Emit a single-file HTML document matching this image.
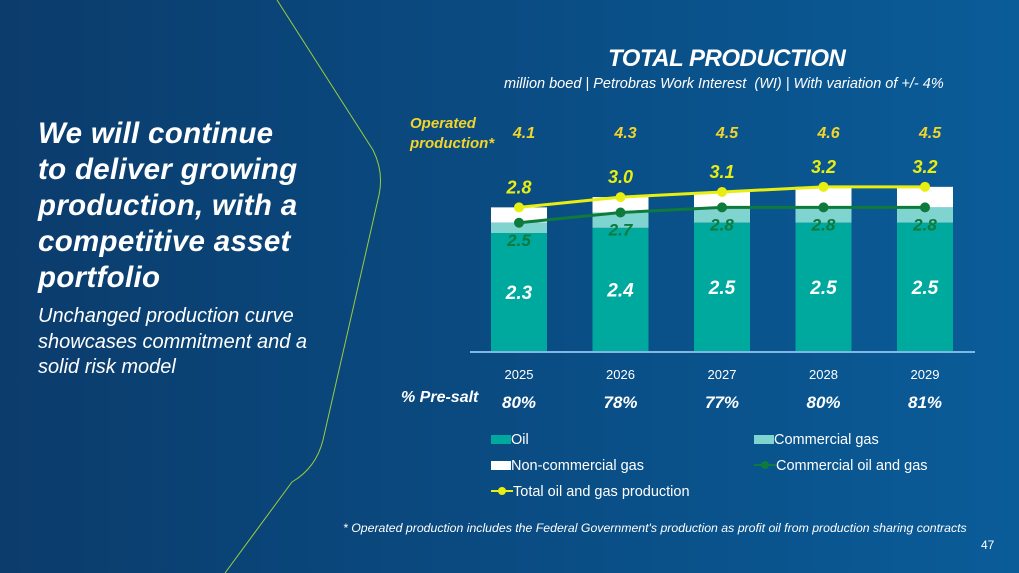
<!DOCTYPE html>
<html><head><meta charset="utf-8"><style>
html,body{margin:0;padding:0}
body{width:1019px;height:573px;overflow:hidden;position:relative;font-family:"Liberation Sans",sans-serif;
background:linear-gradient(90deg,#0b3c6c 0%,#0a4a80 45%,#0a5c99 100%);color:#fff}
.abs{position:absolute;white-space:nowrap}
.h{font-weight:bold;font-style:italic;font-size:29.5px;line-height:36px;left:38px;top:116px;letter-spacing:0.3px}
.s{font-style:italic;font-size:20px;line-height:25.5px;left:38px;top:304px}
</style></head><body>
<svg class="abs" style="left:0;top:0" width="1019" height="573">
<path d="M277,0 L373,150 Q384,172 379,195 L323,440 Q316,468 292,482 L225,573" fill="none" stroke="#9ccc3c" stroke-width="1"/>
</svg>
<div class="abs h">We will continue<br>to deliver growing<br>production, with a<br>competitive asset<br>portfolio</div>
<div class="abs s">Unchanged production curve<br>showcases commitment and a<br>solid risk model</div>
<div class="abs" style="left:608px;top:45px;font-size:24px;font-weight:bold;font-style:italic;letter-spacing:-0.5px">TOTAL PRODUCTION</div>
<div class="abs" style="left:504px;top:76px;font-size:14.5px;font-style:italic">million boed | Petrobras Work Interest&nbsp; (WI) | With variation of +/- 4%</div>
<div class="abs" style="left:410px;top:114px;font-size:15px;font-weight:bold;font-style:italic;color:#f2d42a;line-height:20px">Operated<br>production*</div>
<div class="abs" style="left:401px;top:389px;font-size:16px;font-weight:bold;font-style:italic">% Pre-salt</div>
<svg class="abs" style="left:0;top:0" width="1019" height="573" id="chart"></svg>
<div class="abs" style="left:491px;top:427px;font-size:14.5px;line-height:26px">
<div><span style="display:inline-block;width:20px;height:9px;background:#00a99d"></span>Oil</div>
<div><span style="display:inline-block;width:20px;height:9px;background:#fff"></span>Non-commercial gas</div>
<div><svg width="22" height="10"><line x1="0" y1="5" x2="22" y2="5" stroke="#e8ee10" stroke-width="2"/><circle cx="11" cy="5" r="4" fill="#e8ee10"/></svg>Total oil and gas production</div>
</div>
<div class="abs" style="left:754px;top:427px;font-size:14.5px;line-height:26px">
<div><span style="display:inline-block;width:20px;height:9px;background:#80d4d0"></span>Commercial gas</div>
<div><svg width="22" height="10"><line x1="0" y1="5" x2="22" y2="5" stroke="#0e7a3c" stroke-width="2"/><circle cx="11" cy="5" r="4" fill="#0e7a3c"/></svg>Commercial oil and gas</div>
</div>
<div class="abs" style="left:343px;top:521px;font-size:12.3px;font-style:italic">* Operated production includes the Federal Government's production as profit oil from production sharing contracts</div>
<div class="abs" style="left:981px;top:538px;font-size:12px">47</div>
<script>
const years=["2025","2026","2027","2028","2029"];
const oil=[2.3,2.4,2.5,2.5,2.5];
const commercial=[2.5,2.7,2.8,2.8,2.8];
const total=[2.8,3.0,3.1,3.2,3.2];
const operated=["4.1","4.3","4.5","4.6","4.5"];
const presalt=["80%","78%","77%","80%","81%"];
const svg=document.getElementById('chart');
const NS='http://www.w3.org/2000/svg';
const base=351,scale=51.3,x0=519,step=101.5,bw=56;
const X=i=>x0+i*step, Y=v=>base-v*scale;
function mk(t,a){const e=document.createElementNS(NS,t);for(const k in a)e.setAttribute(k,a[k]);svg.appendChild(e);return e;}
function txt(s,x,y,size,fill,bold,italic){const e=mk('text',{x:x,y:y,'text-anchor':'middle','font-size':size,fill:fill,'font-family':'Liberation Sans, sans-serif','font-weight':bold?'bold':'normal','font-style':italic?'italic':'normal'});e.textContent=s;return e;}
years.forEach((yr,i)=>{
 const x=X(i)-bw/2;
 let r=mk('rect',{x:x,y:Y(total[i]),width:bw,height:(total[i]-commercial[i])*scale,fill:'#ffffff'});
 
 r=mk('rect',{x:x,y:Y(commercial[i]),width:bw,height:(commercial[i]-oil[i])*scale,fill:'#80d4d0'});
 
 r=mk('rect',{x:x,y:Y(oil[i]),width:bw,height:oil[i]*scale,fill:'#00a99d'});
 
 let t=txt(oil[i].toFixed(1),X(i),Y(oil[i]/2)+7,19,'#fff',true,true);
 
 t=txt(commercial[i].toFixed(1),X(i),Y(commercial[i])+23,17,'#0e7a3c',true,true);
 
 t=txt(total[i].toFixed(1),X(i),Y(total[i])-14,18,'#e8ee10',true,true);
 
 t=txt(yr,X(i),379,13,'#fff',false,false);
 
 t=txt(presalt[i],X(i),408,17,'#fff',true,true);
 
 t=txt(operated[i],X(i)+5,138,16,'#f2d42a',true,true);
 
});
const ax=mk('line',{x1:470,y1:352,x2:975,y2:352,stroke:'#7fb8e6','stroke-width':2});

function series(vals,color,name){
 const p=mk('polyline',{points:vals.map((v,i)=>X(i)+','+Y(v)).join(' '),fill:'none',stroke:color,'stroke-width':3});
 
 vals.forEach((v,i)=>{const c=mk('circle',{cx:X(i),cy:Y(v),r:5,fill:color});
 });
}
series(commercial,'#0e7a3c','commercial-oil-gas');
series(total,'#e8ee10','total-production');
</script>
</body></html>
